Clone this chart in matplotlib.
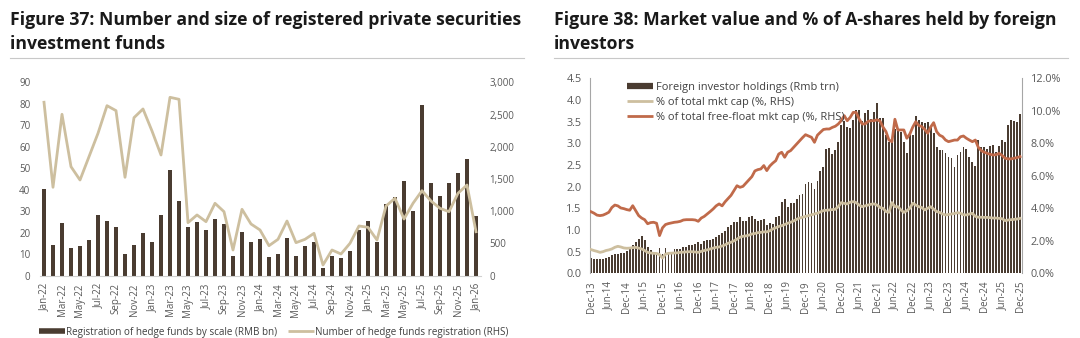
import matplotlib
matplotlib.use("Agg")
import matplotlib.pyplot as plt
from matplotlib.lines import Line2D
from matplotlib.ticker import FuncFormatter
import numpy as np

plt.rcParams["font.family"] = ["Open Sans", "DejaVu Sans"]

W, H = 1080, 338
fig = plt.figure(figsize=(W / 100, H / 100), dpi=100)


def box(left, top, right, bottom):
    """Axes rectangle from pixel edges (origin top-left)."""
    return [left / W, 1 - bottom / H, (right - left) / W, (bottom - top) / H]


BAR = "#4a3c31"
BEIGE = "#cdbf9f"
ORANGE = "#c06a4a"
TICK = "#595959"
SPINE = "#a6a6a6"

# ---------------- Figure 37: private securities investment funds ----------------
fund_scale_bn = [40.3, 14.2, 24.3, 13.0, 13.7, 16.5, 28.3, 25.2, 22.4, 10.2,
                 14.4, 20.0, 15.4, 28.0, 49.1, 34.7, 22.6, 24.8, 21.3, 26.3,
                 24.0, 8.9, 20.1, 15.7, 17.1, 8.8, 10.2, 17.3, 9.2, 13.6,
                 15.7, 3.6, 9.2, 8.3, 11.4, 21.2, 25.5, 15.5, 33.2, 36.7,
                 44.0, 30.0, 79.3, 42.9, 36.9, 42.9, 47.7, 54.1, 27.9]
fund_count = [2690, 1370, 2503, 1690, 1483, 1845, 2208, 2637, 2560, 1525,
              2451, 2586, 2244, 1871, 2767, 2736, 820, 940, 836, 1121,
              991, 396, 1028, 800, 707, 463, 562, 846, 510, 562,
              655, 163, 396, 334, 500, 769, 748, 551, 1079, 1199,
              877, 1121, 1317, 1157, 1043, 991, 1277, 1405, 680]
fund_ticklabels = ["Jan-22", "Mar-22", "May-22", "Jul-22", "Sep-22", "Nov-22",
                   "Jan-23", "Mar-23", "May-23", "Jul-23", "Sep-23", "Nov-23",
                   "Jan-24", "Mar-24", "May-24", "Jul-24", "Sep-24", "Nov-24",
                   "Jan-25", "Mar-25", "May-25", "Jul-25", "Sep-25", "Nov-25",
                   "Jan-26"]

# ---------------- Figure 38: foreign holdings of A-shares ----------------
foreign_holdings_trn = [
    0.35, 0.34, 0.33, 0.33, 0.34, 0.35, 0.37, 0.42, 0.44, 0.45,
    0.47, 0.48, 0.52, 0.58, 0.65, 0.73, 0.80, 0.85, 0.78, 0.60,
    0.54, 0.50, 0.48, 0.58, 0.45, 0.58, 0.48, 0.48, 0.56, 0.56,
    0.56, 0.60, 0.61, 0.65, 0.66, 0.67, 0.72, 0.68, 0.74, 0.77,
    0.78, 0.80, 0.83, 0.88, 0.92, 0.98, 1.06, 1.12, 1.18, 1.18,
    1.29, 1.20, 1.20, 1.29, 1.32, 1.26, 1.20, 1.24, 1.26, 1.12,
    1.17, 1.14, 1.30, 1.32, 1.64, 1.72, 1.52, 1.63, 1.63, 1.72,
    1.80, 1.83, 2.06, 2.10, 2.08, 1.95, 2.14, 2.35, 2.46, 2.88,
    2.90, 2.75, 2.85, 3.04, 3.42, 3.52, 3.38, 3.35, 3.54, 3.77,
    3.77, 3.52, 3.69, 3.78, 3.55, 3.73, 3.94, 3.58, 3.58, 3.19,
    3.02, 3.02, 3.32, 3.31, 3.27, 3.04, 2.77, 3.19, 3.19, 3.62,
    3.54, 3.50, 3.46, 3.50, 3.38, 3.23, 2.92, 2.85, 2.85, 2.78,
    2.68, 2.65, 2.46, 2.73, 2.81, 2.92, 2.88, 2.69, 2.58, 2.48,
    3.08, 2.92, 2.92, 2.88, 2.94, 2.96, 2.81, 2.94, 3.08, 3.04,
    3.42, 3.54, 3.52, 3.50, 3.68]
share_total_mktcap = [
    1.46, 1.40, 1.35, 1.29, 1.33, 1.40, 1.44, 1.50, 1.60, 1.66,
    1.62, 1.56, 1.54, 1.55, 1.58, 1.60, 1.55, 1.50, 1.40, 1.29,
    1.25, 1.23, 1.22, 1.15, 0.94, 1.18, 1.23, 1.24, 1.25, 1.26,
    1.29, 1.30, 1.32, 1.33, 1.33, 1.31, 1.29, 1.35, 1.40, 1.44,
    1.50, 1.55, 1.60, 1.62, 1.68, 1.75, 1.85, 1.91, 2.00, 2.10,
    2.22, 2.28, 2.30, 2.35, 2.42, 2.45, 2.50, 2.52, 2.55, 2.55,
    2.62, 2.73, 2.80, 2.88, 2.93, 3.00, 3.08, 3.14, 3.22, 3.32,
    3.40, 3.45, 3.50, 3.55, 3.60, 3.65, 3.70, 3.78, 3.86, 3.88,
    3.90, 3.92, 3.94, 4.10, 4.35, 4.30, 4.27, 4.38, 4.41, 4.35,
    4.20, 4.10, 4.15, 4.20, 4.25, 4.27, 4.20, 4.05, 4.00, 3.80,
    3.75, 4.35, 4.10, 4.10, 3.90, 3.75, 3.85, 4.00, 4.31, 4.20,
    4.10, 4.05, 3.90, 4.00, 4.10, 3.95, 3.80, 3.75, 3.65, 3.59,
    3.62, 3.65, 3.68, 3.73, 3.70, 3.60, 3.59, 3.65, 3.69, 3.50,
    3.45, 3.45, 3.44, 3.44, 3.42, 3.40, 3.40, 3.38, 3.36, 3.24,
    3.28, 3.30, 3.32, 3.34, 3.38]
share_freefloat_mktcap = [
    3.79, 3.70, 3.58, 3.55, 3.58, 3.66, 3.76, 4.05, 4.20, 4.15,
    4.02, 3.98, 3.92, 3.88, 4.16, 3.85, 3.55, 3.40, 3.30, 3.05,
    3.12, 3.14, 3.08, 2.32, 2.80, 3.00, 3.06, 3.10, 3.14, 3.16,
    3.20, 3.28, 3.30, 3.30, 3.30, 3.28, 3.20, 3.40, 3.50, 3.65,
    3.80, 3.96, 4.15, 4.27, 4.15, 4.40, 4.60, 4.80, 5.10, 5.39,
    5.29, 5.35, 5.55, 5.75, 5.95, 6.30, 6.38, 6.42, 6.63, 6.32,
    6.60, 6.78, 6.93, 7.34, 7.45, 7.14, 7.45, 7.55, 7.75, 7.95,
    8.16, 8.35, 8.53, 8.45, 8.37, 8.06, 8.50, 8.68, 8.85, 8.88,
    8.88, 8.98, 9.05, 9.19, 9.40, 9.70, 9.39, 9.60, 9.90, 9.90,
    9.50, 9.19, 9.19, 9.35, 9.39, 9.39, 9.45, 9.37, 9.00, 8.72,
    8.20, 8.10, 9.48, 8.82, 8.82, 8.82, 8.31, 8.57, 9.00, 9.33,
    9.10, 9.03, 8.86, 8.62, 9.00, 9.27, 8.72, 8.50, 8.41, 8.20,
    8.10, 8.15, 8.20, 8.20, 8.40, 8.45, 8.31, 8.20, 8.10, 8.20,
    7.75, 7.55, 7.45, 7.38, 7.32, 7.28, 7.30, 7.38, 7.25, 7.08,
    7.04, 7.04, 7.08, 7.12, 7.18]
holdings_ticklabels = ["Dec-13", "Jun-14", "Dec-14", "Jun-15", "Dec-15",
                       "Jun-16", "Dec-16", "Jun-17", "Dec-17", "Jun-18",
                       "Dec-18", "Jun-19", "Dec-19", "Jun-20", "Dec-20",
                       "Jun-21", "Dec-21", "Jun-22", "Dec-22", "Jun-23",
                       "Dec-23", "Jun-24", "Dec-24", "Jun-25", "Dec-25"]

# ---------------- titles ----------------
title_kw = dict(fontsize=12.7, fontweight="bold", color="#1a1a1a",
                family=["Open Sans", "DejaVu Sans"], va="baseline", ha="left")
fig.text(10 / W, 1 - 25 / H, "Figure 37: Number and size of registered private securities", **title_kw)
fig.text(10 / W, 1 - 49 / H, "investment funds", **title_kw)
fig.text(554 / W, 1 - 25 / H, "Figure 38: Market value and % of A-shares held by foreign", **title_kw)
fig.text(554 / W, 1 - 49 / H, "investors", **title_kw)
for x0, x1 in [(10, 524), (554, 1068)]:
    fig.add_artist(Line2D([x0 / W, x1 / W], [1 - 57.5 / H] * 2, color="#c8c8c8", lw=0.8))

# ---------------- left chart ----------------
ax1 = fig.add_axes(box(39.5, 82.3, 480.5, 275.5))
x1 = np.arange(len(fund_scale_bn))
ax1.bar(x1, fund_scale_bn, width=0.45, color=BAR, zorder=2)
ax1.set_xlim(-0.5, len(x1) - 0.5)
ax1.set_ylim(0, 90)
ax1.set_yticks(np.arange(0, 91, 10))
ax1r = ax1.twinx()
ax1r.plot(x1, fund_count, color=BEIGE, lw=2.0, zorder=3)
ax1r.set_ylim(0, 3000)
ax1r.set_yticks(np.arange(0, 3001, 500))
ax1r.yaxis.set_major_formatter(FuncFormatter(lambda v, p: f"{v:,.0f}"))
ax1.set_xticks(x1[::2])
ax1.set_xticklabels(fund_ticklabels, rotation=90)
for a in (ax1, ax1r):
    for s in a.spines.values():
        s.set_visible(False)
    a.tick_params(length=0, labelsize=7, colors=TICK)
ax1.spines["bottom"].set_visible(True)
ax1.spines["bottom"].set_color("#d0d0d0")
ax1.tick_params(axis="y", pad=6.5)
ax1.tick_params(axis="x", pad=5.5)
ax1r.tick_params(axis="y", pad=6.5)

leg1 = fig.legend(
    handles=[Line2D([], [], color=BAR, lw=4, solid_capstyle="butt"),
             Line2D([], [], color=BEIGE, lw=2, solid_capstyle="butt")],
    labels=["Registration of hedge funds by scale (RMB bn)",
            "Number of hedge funds registration (RHS)"],
    loc="center left", bbox_to_anchor=(39 / W, 1 - 332 / H), ncol=2,
    frameon=False, fontsize=7.1, handlelength=2.6, handletextpad=0.15,
    columnspacing=1.1, borderpad=0, borderaxespad=0)
for t in leg1.get_texts():
    t.set_color("#404040")

# ---------------- right chart ----------------
ax2 = fig.add_axes(box(590, 78.3, 1021.7, 273.3))
x2 = np.arange(len(foreign_holdings_trn))
ax2.bar(x2, foreign_holdings_trn, width=0.62, color=BAR, zorder=2, linewidth=0)
ax2.set_xlim(-0.34, len(x2) - 1 + 0.56)
ax2.set_ylim(0, 4.5)
ax2.set_yticks(np.arange(0, 4.51, 0.5))
ax2.yaxis.set_major_formatter(FuncFormatter(lambda v, p: f"{v:.1f}"))
ax2r = ax2.twinx()
ax2r.plot(x2, share_total_mktcap, color=BEIGE, lw=2.0, zorder=3)
ax2r.plot(x2, share_freefloat_mktcap, color=ORANGE, lw=2.0, zorder=4)
ax2r.set_ylim(0, 12)
ax2r.set_yticks(np.arange(0, 12.01, 2))
ax2r.yaxis.set_major_formatter(FuncFormatter(lambda v, p: f"{v:.1f}%"))
ax2.set_xticks(x2[::6])
ax2.set_xticklabels(holdings_ticklabels, rotation=90)
for a in (ax2, ax2r):
    for s in a.spines.values():
        s.set_visible(False)
    a.tick_params(length=0, labelsize=7.8, colors=TICK)
ax2.spines["left"].set_visible(True)
ax2.spines["left"].set_color(SPINE)
ax2r.spines["right"].set_visible(True)
ax2r.spines["right"].set_color(SPINE)
ax2.tick_params(axis="y", pad=6)
ax2.tick_params(axis="x", pad=5.5, labelsize=7)
ax2r.tick_params(axis="y", pad=6.5)

leg2 = ax2r.legend(
    handles=[Line2D([], [], color=BAR, lw=4.5, solid_capstyle="butt"),
             Line2D([], [], color=BEIGE, lw=2, solid_capstyle="butt"),
             Line2D([], [], color=ORANGE, lw=2, solid_capstyle="butt")],
    labels=["Foreign investor holdings (Rmb trn)",
            "% of total mkt cap (%, RHS)",
            "% of total free-float mkt cap (%, RHS)"],
    loc="upper left", bbox_to_anchor=((627 - 590) / (1021.7 - 590), 1 - (82 - 78.3) / 195),
    frameon=False, fontsize=7.9, handlelength=2.4, handletextpad=0.2,
    labelspacing=0.35, borderpad=0, borderaxespad=0)
for t in leg2.get_texts():
    t.set_color("#404040")

fig.savefig("out.png", dpi=100, facecolor="white")
